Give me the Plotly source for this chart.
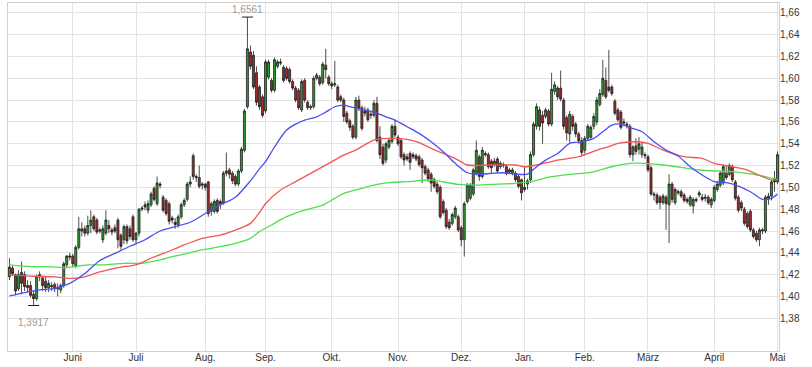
import plotly.graph_objects as go
import pandas as pd

# ---------------- data ----------------
LAST_DAY = "2016-05-02"
HOLIDAYS = ["2015-06-04", "2015-08-31", "2015-12-24", "2015-12-25",
            "2016-01-01", "2016-03-25"]
MONTHS_DE = ["Jan.", "Feb.", "März", "April", "Mai", "Juni", "Juli",
             "Aug.", "Sep.", "Okt.", "Nov.", "Dez."]
Y_TICKS = [1.38, 1.40, 1.42, 1.44, 1.46, 1.48, 1.50, 1.52, 1.54, 1.56,
           1.58, 1.60, 1.62, 1.64, 1.66]

open_ = [1.418, 1.426, 1.420, 1.407, 1.422, 1.420, 1.408, 1.410, 1.402, 1.398,
         1.418, 1.417, 1.414, 1.408, 1.410, 1.411, 1.407, 1.406, 1.410, 1.429,
         1.436, 1.437, 1.428, 1.445, 1.460, 1.462, 1.458, 1.465, 1.473, 1.470,
         1.461, 1.452, 1.458, 1.465, 1.461, 1.463, 1.470, 1.456, 1.452, 1.464,
         1.462, 1.473, 1.452, 1.458, 1.480, 1.482, 1.479, 1.484, 1.499, 1.485,
         1.503, 1.491, 1.488, 1.485, 1.472, 1.468, 1.466, 1.473, 1.484, 1.489,
         1.503, 1.529, 1.510, 1.509, 1.502, 1.503, 1.505, 1.478, 1.478, 1.488,
         1.487, 1.486, 1.513, 1.516, 1.513, 1.510, 1.503, 1.515, 1.534, 1.574,
         1.624, 1.621, 1.605, 1.592, 1.583, 1.570, 1.601, 1.598, 1.589, 1.611,
         1.615, 1.610, 1.609, 1.608, 1.597, 1.591, 1.589, 1.571, 1.598, 1.578,
         1.573, 1.574, 1.600, 1.601, 1.596, 1.612, 1.601, 1.595, 1.594, 1.592,
         1.583, 1.580, 1.568, 1.561, 1.556, 1.546, 1.580, 1.573, 1.570, 1.571,
         1.566, 1.566, 1.577, 1.546, 1.537, 1.525, 1.537, 1.542, 1.556, 1.546,
         1.543, 1.530, 1.528, 1.531, 1.530, 1.529, 1.528, 1.525, 1.519, 1.516,
         1.512, 1.507, 1.503, 1.500, 1.487, 1.479, 1.468, 1.467, 1.473, 1.473,
         1.463, 1.452, 1.487, 1.490, 1.494, 1.513, 1.528, 1.510, 1.531, 1.530,
         1.524, 1.521, 1.526, 1.519, 1.521, 1.519, 1.514, 1.513, 1.513, 1.510,
         1.507, 1.498, 1.503, 1.507, 1.530, 1.556, 1.571, 1.566, 1.565, 1.570,
         1.558, 1.588, 1.591, 1.591, 1.580, 1.564, 1.549, 1.565, 1.558, 1.549,
         1.543, 1.534, 1.545, 1.546, 1.556, 1.560, 1.576, 1.585, 1.598, 1.592,
         1.592, 1.579, 1.571, 1.569, 1.560, 1.558, 1.556, 1.530, 1.538, 1.535,
         1.530, 1.530, 1.528, 1.518, 1.494, 1.493, 1.491, 1.486, 1.491, 1.484,
         1.503, 1.486, 1.495, 1.496, 1.493, 1.489, 1.484, 1.483, 1.489, 1.493,
         1.491, 1.490, 1.491, 1.484, 1.488, 1.498, 1.502, 1.504, 1.513, 1.512,
         1.519, 1.505, 1.491, 1.486, 1.480, 1.476, 1.478, 1.461, 1.458, 1.452,
         1.460, 1.460, 1.490, 1.492, 1.508, 1.505]
high = [1.435, 1.428, 1.421, 1.424, 1.432, 1.423, 1.415, 1.414, 1.405, 1.420,
        1.423, 1.419, 1.418, 1.415, 1.413, 1.413, 1.412, 1.412, 1.432, 1.438,
        1.440, 1.439, 1.447, 1.473, 1.468, 1.465, 1.474, 1.479, 1.475, 1.472,
        1.463, 1.465, 1.479, 1.470, 1.463, 1.466, 1.472, 1.458, 1.466, 1.466,
        1.465, 1.475, 1.459, 1.481, 1.483, 1.487, 1.488, 1.496, 1.501, 1.510,
        1.505, 1.493, 1.490, 1.487, 1.474, 1.472, 1.475, 1.486, 1.490, 1.505,
        1.510, 1.531, 1.512, 1.520, 1.505, 1.504, 1.506, 1.487, 1.489, 1.490,
        1.489, 1.515, 1.532, 1.518, 1.515, 1.512, 1.517, 1.537, 1.572, 1.6561,
        1.630, 1.625, 1.611, 1.594, 1.585, 1.617, 1.617, 1.600, 1.619, 1.617,
        1.618, 1.612, 1.611, 1.610, 1.599, 1.593, 1.591, 1.599, 1.600, 1.580,
        1.576, 1.602, 1.605, 1.603, 1.615, 1.627, 1.603, 1.597, 1.616, 1.594,
        1.585, 1.582, 1.570, 1.563, 1.558, 1.583, 1.584, 1.575, 1.574, 1.573,
        1.570, 1.580, 1.583, 1.556, 1.540, 1.542, 1.545, 1.558, 1.562, 1.548,
        1.545, 1.532, 1.531, 1.533, 1.532, 1.531, 1.530, 1.527, 1.521, 1.518,
        1.514, 1.509, 1.505, 1.502, 1.489, 1.481, 1.471, 1.477, 1.483, 1.475,
        1.465, 1.487, 1.504, 1.504, 1.518, 1.543, 1.530, 1.537, 1.533, 1.532,
        1.526, 1.527, 1.528, 1.524, 1.523, 1.521, 1.518, 1.518, 1.515, 1.512,
        1.508, 1.519, 1.508, 1.533, 1.560, 1.577, 1.574, 1.570, 1.573, 1.572,
        1.605, 1.597, 1.593, 1.607, 1.582, 1.566, 1.570, 1.567, 1.560, 1.551,
        1.546, 1.547, 1.558, 1.557, 1.568, 1.583, 1.590, 1.617, 1.610, 1.626,
        1.594, 1.581, 1.573, 1.571, 1.563, 1.560, 1.558, 1.539, 1.545, 1.546,
        1.541, 1.532, 1.530, 1.520, 1.496, 1.495, 1.493, 1.494, 1.493, 1.512,
        1.505, 1.500, 1.498, 1.498, 1.495, 1.491, 1.493, 1.491, 1.491, 1.497,
        1.494, 1.494, 1.493, 1.491, 1.502, 1.506, 1.515, 1.521, 1.520, 1.522,
        1.521, 1.507, 1.493, 1.488, 1.482, 1.478, 1.480, 1.463, 1.460, 1.463,
        1.463, 1.493, 1.495, 1.507, 1.515, 1.533]
low = [1.415, 1.419, 1.401, 1.405, 1.402, 1.405, 1.404, 1.399, 1.3917, 1.396,
       1.414, 1.405, 1.404, 1.404, 1.405, 1.404, 1.400, 1.403, 1.408, 1.426,
       1.433, 1.427, 1.426, 1.443, 1.455, 1.455, 1.456, 1.458, 1.460, 1.457,
       1.458, 1.449, 1.456, 1.458, 1.456, 1.458, 1.444, 1.443, 1.448, 1.448,
       1.452, 1.450, 1.448, 1.455, 1.478, 1.479, 1.476, 1.482, 1.487, 1.483,
       1.499, 1.477, 1.474, 1.466, 1.467, 1.462, 1.463, 1.471, 1.482, 1.487,
       1.500, 1.507, 1.505, 1.499, 1.498, 1.497, 1.473, 1.474, 1.476, 1.476,
       1.480, 1.484, 1.510, 1.508, 1.503, 1.501, 1.501, 1.513, 1.532, 1.572,
       1.608, 1.590, 1.575, 1.571, 1.564, 1.568, 1.599, 1.587, 1.587, 1.609,
       1.612, 1.596, 1.598, 1.595, 1.589, 1.578, 1.571, 1.569, 1.578, 1.571,
       1.571, 1.572, 1.598, 1.593, 1.594, 1.600, 1.593, 1.590, 1.592, 1.578,
       1.578, 1.560, 1.558, 1.552, 1.544, 1.544, 1.570, 1.552, 1.565, 1.560,
       1.563, 1.564, 1.541, 1.526, 1.520, 1.522, 1.535, 1.540, 1.546, 1.538,
       1.526, 1.520, 1.524, 1.516, 1.526, 1.524, 1.519, 1.504, 1.511, 1.505,
       1.496, 1.499, 1.494, 1.471, 1.475, 1.462, 1.461, 1.465, 1.471, 1.459,
       1.446, 1.4365, 1.485, 1.488, 1.492, 1.511, 1.506, 1.508, 1.528, 1.517,
       1.513, 1.519, 1.513, 1.517, 1.518, 1.511, 1.512, 1.511, 1.505, 1.499,
       1.488, 1.496, 1.498, 1.504, 1.528, 1.553, 1.552, 1.540, 1.563, 1.556,
       1.556, 1.585, 1.580, 1.579, 1.553, 1.543, 1.541, 1.552, 1.546, 1.540,
       1.529, 1.531, 1.543, 1.544, 1.553, 1.557, 1.574, 1.583, 1.581, 1.587,
       1.584, 1.566, 1.560, 1.553, 1.556, 1.554, 1.527, 1.524, 1.530, 1.530,
       1.527, 1.526, 1.514, 1.492, 1.488, 1.484, 1.480, 1.484, 1.461, 1.449,
       1.486, 1.484, 1.493, 1.490, 1.486, 1.485, 1.482, 1.476, 1.486, 1.491,
       1.487, 1.487, 1.484, 1.481, 1.486, 1.496, 1.500, 1.502, 1.507, 1.510,
       1.505, 1.488, 1.477, 1.478, 1.465, 1.462, 1.459, 1.453, 1.450, 1.446,
       1.457, 1.458, 1.484, 1.488, 1.496, 1.503]
close = [1.427, 1.421, 1.405, 1.420, 1.412, 1.409, 1.410, 1.401, 1.398, 1.418,
         1.420, 1.410, 1.408, 1.412, 1.409, 1.407, 1.408, 1.410, 1.430, 1.437,
         1.437, 1.430, 1.445, 1.462, 1.462, 1.458, 1.465, 1.470, 1.462, 1.459,
         1.460, 1.462, 1.470, 1.462, 1.459, 1.460, 1.452, 1.446, 1.464, 1.451,
         1.455, 1.452, 1.458, 1.480, 1.481, 1.484, 1.485, 1.494, 1.489, 1.504,
         1.502, 1.479, 1.476, 1.469, 1.470, 1.466, 1.473, 1.484, 1.488, 1.503,
         1.505, 1.510, 1.509, 1.501, 1.503, 1.500, 1.476, 1.485, 1.487, 1.478,
         1.485, 1.513, 1.515, 1.512, 1.506, 1.503, 1.515, 1.535, 1.570, 1.627,
         1.611, 1.592, 1.578, 1.574, 1.566, 1.615, 1.615, 1.589, 1.617, 1.615,
         1.614, 1.598, 1.600, 1.597, 1.591, 1.580, 1.573, 1.597, 1.580, 1.573,
         1.574, 1.600, 1.603, 1.595, 1.613, 1.608, 1.595, 1.593, 1.595, 1.580,
         1.580, 1.565, 1.560, 1.555, 1.546, 1.580, 1.572, 1.554, 1.568, 1.562,
         1.567, 1.577, 1.543, 1.530, 1.522, 1.540, 1.543, 1.556, 1.548, 1.540,
         1.528, 1.525, 1.526, 1.523, 1.528, 1.526, 1.521, 1.518, 1.513, 1.508,
         1.504, 1.501, 1.496, 1.473, 1.477, 1.464, 1.463, 1.475, 1.481, 1.461,
         1.452, 1.485, 1.502, 1.502, 1.516, 1.534, 1.510, 1.534, 1.530, 1.519,
         1.518, 1.524, 1.515, 1.522, 1.520, 1.513, 1.516, 1.516, 1.507, 1.501,
         1.495, 1.500, 1.506, 1.530, 1.558, 1.574, 1.556, 1.559, 1.571, 1.558,
         1.590, 1.594, 1.583, 1.581, 1.556, 1.550, 1.567, 1.556, 1.549, 1.543,
         1.532, 1.545, 1.556, 1.555, 1.565, 1.580, 1.586, 1.600, 1.583, 1.589,
         1.586, 1.568, 1.562, 1.555, 1.559, 1.557, 1.530, 1.537, 1.533, 1.540,
         1.537, 1.529, 1.516, 1.494, 1.493, 1.486, 1.486, 1.492, 1.485, 1.503,
         1.489, 1.498, 1.496, 1.492, 1.488, 1.487, 1.491, 1.489, 1.488, 1.495,
         1.489, 1.491, 1.486, 1.489, 1.500, 1.503, 1.513, 1.519, 1.509, 1.520,
         1.507, 1.490, 1.479, 1.481, 1.467, 1.464, 1.461, 1.455, 1.452, 1.461,
         1.461, 1.491, 1.492, 1.505, 1.505, 1.530]

# moving averages (trading-day index, value)
ma_fast_idx = [0, 5, 10, 15, 20, 25, 30, 35, 40, 45, 50, 55, 60, 65, 70, 75, 80,
               83, 85, 88, 92, 95, 98, 102, 105, 108, 111, 113, 117, 121, 125, 128,
               132, 136, 140, 144, 148, 152, 156, 160, 164, 168, 172, 175, 178, 182,
               186, 190, 194, 197, 200, 203, 206, 210, 214, 218, 222, 226, 230, 234,
               238, 242, 246, 250, 253, 255]
ma_fast = [1.4005, 1.4035, 1.406, 1.4075, 1.412, 1.421, 1.433, 1.4395, 1.446,
           1.452, 1.460, 1.464, 1.468, 1.476, 1.484, 1.491, 1.506, 1.517, 1.5235,
           1.537, 1.5525, 1.558, 1.5617, 1.5647, 1.569, 1.5739, 1.5754, 1.574,
           1.5715, 1.569, 1.5647, 1.5617, 1.5556, 1.5495, 1.5418, 1.5327, 1.522,
           1.5134, 1.512, 1.5128, 1.5134, 1.5122, 1.5122, 1.519, 1.525, 1.5311,
           1.5403, 1.5418, 1.5449, 1.551, 1.5571, 1.558, 1.5547, 1.551, 1.5418,
           1.5342, 1.5287, 1.5189, 1.5113, 1.5052, 1.5043, 1.5012, 1.496, 1.489,
           1.490, 1.494]
ma_mid_idx = [0, 8, 15, 20, 25, 30, 38, 42, 47, 54, 58, 64, 70, 75, 80, 83, 85, 90,
              95, 100, 106, 111, 115, 121, 126, 132, 136, 140, 144, 149, 152, 160,
              168, 171, 175, 182, 189, 196, 199, 202, 208, 212, 217, 224, 230, 234,
              240, 245, 250, 253, 255]
ma_mid = [1.4197, 1.4185, 1.418, 1.4166, 1.418, 1.4225, 1.4273, 1.4289, 1.435,
          1.4426, 1.4472, 1.4533, 1.4563, 1.4609, 1.467, 1.477, 1.485, 1.4976,
          1.5052, 1.5128, 1.522, 1.5296, 1.5342, 1.5434, 1.5449, 1.544, 1.541,
          1.5357, 1.5311, 1.525, 1.5205, 1.5205, 1.5205, 1.5189, 1.5205, 1.525,
          1.5281, 1.535, 1.5373, 1.5403, 1.5418, 1.5403, 1.5342, 1.5281, 1.5266,
          1.522, 1.5189, 1.5159, 1.5098, 1.5067, 1.507]
ma_slow_idx = [0, 7, 13, 19, 26, 31, 38, 44, 50, 54, 59, 64, 70, 75, 80, 83, 87, 92,
               98, 104, 108, 111, 115, 121, 126, 132, 140, 149, 155, 160, 168, 173,
               180, 186, 193, 196, 200, 206, 211, 217, 225, 229, 234, 240, 245, 251,
               255]
ma_slow = [1.4289, 1.4273, 1.4273, 1.4264, 1.4289, 1.4289, 1.4304, 1.4304, 1.4335,
           1.4365, 1.4395, 1.4426, 1.4456, 1.4487, 1.4533, 1.4594, 1.4655, 1.4731,
           1.4792, 1.4838, 1.4899, 1.4945, 1.4976, 1.5021, 1.5043, 1.5052, 1.5067,
           1.5027, 1.502, 1.5027, 1.5037, 1.5052, 1.5098, 1.5119, 1.5137, 1.5159,
           1.5189, 1.522, 1.522, 1.5205, 1.5174, 1.5159, 1.515, 1.5144, 1.5128,
           1.5098, 1.507]

# ---------------- build ----------------
bday = pd.offsets.CustomBusinessDay(holidays=HOLIDAYS)
dates = pd.date_range(end=LAST_DAY, periods=len(close), freq=bday)
x = dates.strftime("%Y-%m-%d").tolist()
n = len(x)

tickvals, ticktext = [], []
for i in range(1, n):
    if dates[i].month != dates[i - 1].month:
        tickvals.append(x[i])
        ticktext.append(MONTHS_DE[dates[i].month - 1])


def de(v):
    return f"{v:.4f}".replace(".", ",")


fig = go.Figure()
for idx, vals, col in [(ma_slow_idx, ma_slow, "#4fe04f"),
                       (ma_mid_idx, ma_mid, "#f25555"),
                       (ma_fast_idx, ma_fast, "#4a4ef0")]:
    fig.add_trace(go.Scatter(x=[x[i] for i in idx], y=vals, mode="lines",
                             line=dict(color=col, width=1.3, shape="spline",
                                       smoothing=0.8),
                             hoverinfo="skip", showlegend=False))

fig.add_trace(go.Candlestick(
    x=x, open=open_, high=high, low=low, close=close,
    increasing=dict(fillcolor="#2f9e2f", line=dict(color="#1e1e1e", width=0.8)),
    decreasing=dict(fillcolor="#a02c2c", line=dict(color="#1e1e1e", width=0.8)),
    whiskerwidth=0, showlegend=False))

imax = max(range(n), key=lambda i: high[i])
imin = min(range(n), key=lambda i: low[i])
fig.add_trace(go.Scatter(x=[x[imax], x[imin]], y=[high[imax], low[imin]],
                         mode="markers",
                         marker=dict(symbol="line-ew-open", size=8, color="#222",
                                     line=dict(color="#222", width=1)),
                         hoverinfo="skip", showlegend=False))
fig.add_annotation(x=x[imax], y=high[imax], text=de(high[imax]), showarrow=False,
                   yanchor="bottom", yshift=0,
                   font=dict(color="#9a9a9a", size=10))
fig.add_annotation(x=x[imin], y=low[imin], text=de(low[imin]), showarrow=False,
                   yanchor="top", yshift=-9,
                   font=dict(color="#9a9a9a", size=10))

fig.update_layout(
    width=812, height=367,
    margin=dict(l=8, r=33, t=3, b=16),
    paper_bgcolor="white", plot_bgcolor="white",
    separators=",.",
    boxgap=0.05,
    font=dict(family="Liberation Sans, Arial, sans-serif", size=10, color="#333"),
    xaxis=dict(type="category", categoryorder="array", categoryarray=x,
               range=[-0.5, n - 0.5], tickvals=tickvals, ticktext=ticktext,
               showgrid=True, gridcolor="#e2e2e2", gridwidth=1,
               showline=True, linecolor="#d0d0d0", mirror=True,
               ticks="", ticklabelstandoff=-3,
               rangeslider=dict(visible=False), fixedrange=True),
    yaxis=dict(side="right", range=[1.350, 1.669], tickvals=Y_TICKS,
               tickformat=".2f", showgrid=True, gridcolor="#e2e2e2",
               showline=True, linecolor="#d0d0d0", mirror=True, ticks="",
               ticklabelstandoff=-2, zeroline=False),
)

fig.write_html("out.html", config={"displayModeBar": False},
               post_script="document.body.style.margin='0px';")
